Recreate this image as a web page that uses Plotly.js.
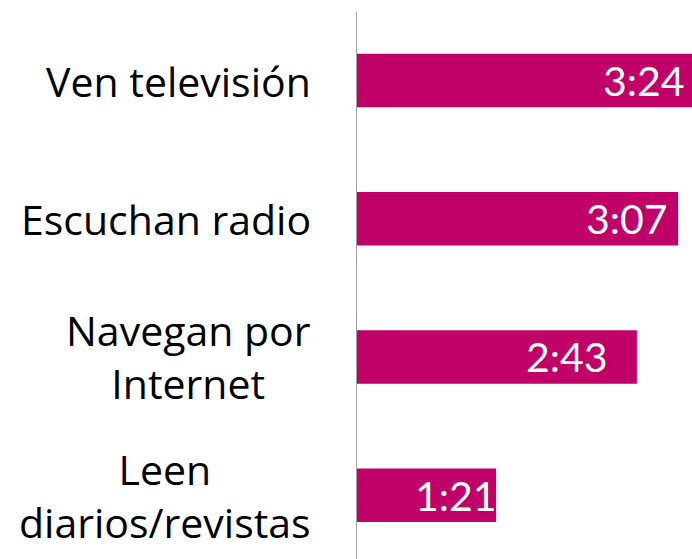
<!DOCTYPE html>
<html>
<head>
<meta charset="utf-8">
<script src="https://cdn.plot.ly/plotly-3.0.1.min.js"></script>
<style>html,body{margin:0;padding:0;background:#fff;}#chart{width:692px;height:559px;}</style>
</head>
<body>
<div id="chart"></div>
<script>
// Data
const categories = ["Ven televisión", "Escuchan radio", "Navegan por Internet", "Leen diarios/revistas"];
const categoryLabels = ["Ven televisión", "Escuchan radio", "Navegan por<br>Internet", "Leen<br>diarios/revistas"];
const minutes = [204, 187, 163, 81];           // 3:24, 3:07, 2:43, 1:21
const timeLabels = ["3:24", "3:07", "2:43", "1:21"];

// Styling / placement (not data)
const LABEL_FONT = "'Open Sans', sans-serif";
const VALUE_FONT = "Lato, 'Open Sans', sans-serif";
const barColor = "#C00068";
const xMax = 195.1;
const valueLabelShift = [-5, -8, -27, 3];

const trace = {
  type: "bar",
  orientation: "h",
  y: categories,
  x: minutes,
  marker: {color: barColor, line: {width: 0}},
  width: 0.387,
  hoverinfo: "none"
};

const annotations = categories.map((c, i) => ({
  xref: "paper", yref: "y",
  x: 0, y: c,
  xanchor: "right", yanchor: "middle",
  xshift: -44,
  align: "center",
  text: categoryLabels[i],
  showarrow: false,
  font: {family: LABEL_FONT, size: 41, color: "#000000"}
}));

// value labels at the (visible) end of each bar
categories.forEach((c, i) => {
  annotations.push({
    xref: "x", yref: "y",
    x: Math.min(minutes[i], xMax), y: c,
    xanchor: "right", yanchor: "middle",
    xshift: valueLabelShift[i],
    text: timeLabels[i],
    showarrow: false,
    font: {family: VALUE_FONT, size: 41, color: "#ffffff"}
  });
});

const layout = {
  width: 692, height: 559,
  margin: {l: 357, r: 0, t: 12, b: 0, pad: 0},
  paper_bgcolor: "#ffffff",
  plot_bgcolor: "#ffffff",
  showlegend: false,
  xaxis: {
    range: [0, xMax],
    visible: false,
    fixedrange: true
  },
  yaxis: {
    type: "category",
    categoryorder: "array",
    categoryarray: categories,
    range: [3.462, -0.496],
    showticklabels: false,
    ticks: "",
    showgrid: false,
    zeroline: false,
    showline: true,
    linecolor: "#a0a0a0",
    linewidth: 1.5,
    fixedrange: true
  },
  annotations: annotations
};

Plotly.newPlot("chart", [trace], layout, {displayModeBar: false, staticPlot: true});
</script>
</body>
</html>
